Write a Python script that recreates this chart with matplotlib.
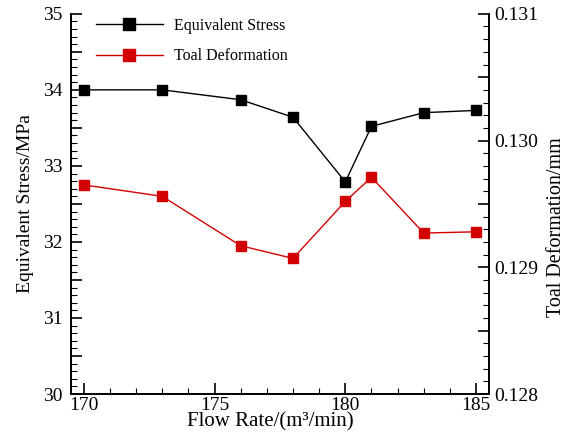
import numpy as np
import matplotlib
matplotlib.use('Agg')
import matplotlib.pyplot as plt
from matplotlib.ticker import MultipleLocator, FuncFormatter

# 数据
flow_rate = [170, 173, 176, 178, 180, 181, 183, 185]
stress = [34.00, 34.00, 33.87, 33.64, 32.79, 33.52, 33.70, 33.73]
deformation = [0.12965, 0.12956, 0.12917, 0.12907, 0.12952, 0.12971, 0.12927, 0.12928]

plt.rcParams['font.family'] = ['Liberation Serif', 'DejaVu Serif']

fig = plt.figure(figsize=(5.67, 4.36), dpi=100)
ax = fig.add_axes([0.1247, 0.0963, 0.738, 0.872])
ax2 = ax.twinx()

l1, = ax.plot(flow_rate, stress, color='black', marker='s', markersize=6.5,
              linewidth=1.0, label='Equivalent Stress')
l2, = ax2.plot(flow_rate, deformation, color='#d20000', marker='s', markersize=6.5,
               linewidth=1.0, label='Toal Deformation')

ax.set_xlim(169.5, 185.5)
ax.set_ylim(30, 35)
ax2.set_ylim(0.128, 0.131)

# 刻度
ax.xaxis.set_major_locator(MultipleLocator(5))
ax.xaxis.set_minor_locator(MultipleLocator(1))
ax.yaxis.set_major_locator(MultipleLocator(0.5))
ax.yaxis.set_minor_locator(MultipleLocator(0.1))
ax.yaxis.set_major_formatter(FuncFormatter(
    lambda v, p: '%d' % round(v) if abs(v - round(v)) < 1e-6 else ''))
ax2.yaxis.set_major_locator(MultipleLocator(0.0005))
ax2.yaxis.set_minor_locator(MultipleLocator(0.0001))
ax2.yaxis.set_major_formatter(FuncFormatter(
    lambda v, p: '%.3f' % v if abs(v * 1000 - round(v * 1000)) < 1e-6 else ''))

for a in (ax, ax2):
    a.tick_params(which='major', direction='in', length=8, width=1.2, labelsize=14)
    a.tick_params(which='minor', direction='in', length=4, width=0.8)
    a.spines['top'].set_visible(False)
    for s in a.spines.values():
        s.set_linewidth(1.2)
ax.tick_params(axis='y', pad=6)
ax.tick_params(axis='x', pad=2)
ax2.tick_params(axis='y', pad=4)

ax.set_xlabel('Flow Rate/(m³/min)', fontsize=15, labelpad=-1)
ax.xaxis.label.set_x(0.476)
ax.set_ylabel('Equivalent Stress/MPa', fontsize=14, labelpad=6)
ax2.set_ylabel('Toal Deformation/mm', fontsize=14.5, labelpad=6)
ax2.yaxis.label.set_y(0.44)

ax.legend(handles=[l1, l2], loc='upper left', bbox_to_anchor=(0.025, 1.027),
          frameon=False, fontsize=11.5, handlelength=4.2, markerscale=1.25,
          labelspacing=0.9, handletextpad=0.7)

fig.savefig('out.png', dpi=100)
